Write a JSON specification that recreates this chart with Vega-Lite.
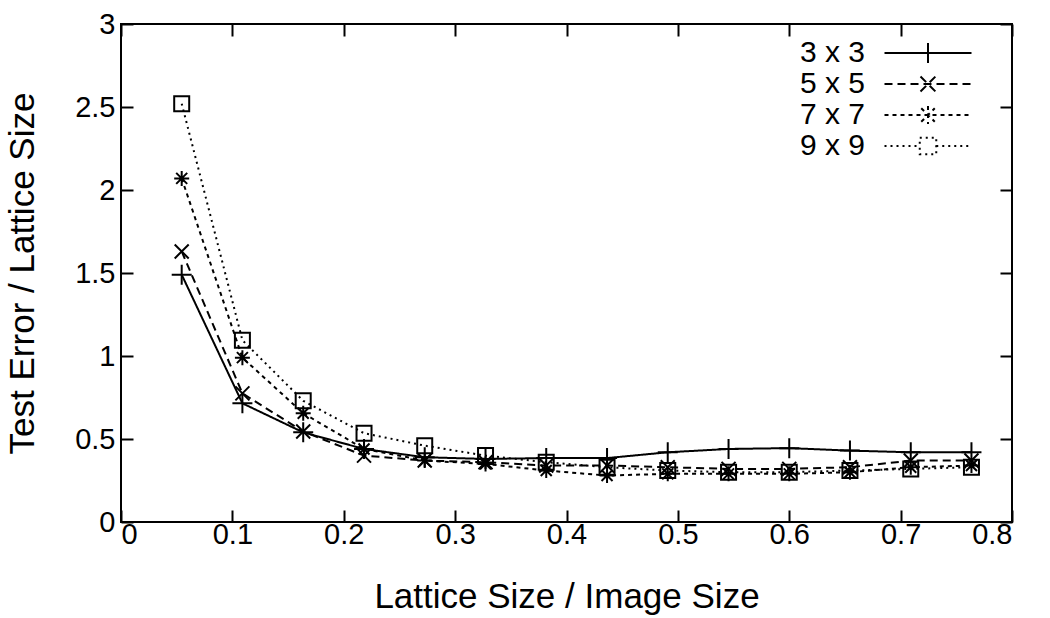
{
  "$schema": "https://vega.github.io/schema/vega-lite/v6.json",
  "width": 891,
  "height": 498,
  "autosize": "none",
  "padding": {"left": 121, "top": 24, "right": 38, "bottom": 96},
  "background": "white",
  "config": {
    "font": "Liberation Sans",
    "view": {"stroke": "black", "strokeWidth": 2},
    "axis": {"grid": false, "domain": false, "tickColor": "black", "tickWidth": 2, "tickSize": -12, "labelColor": "black", "titleColor": "black", "labelFont": "Liberation Sans", "titleFont": "Liberation Sans", "labelFontSize": 29, "titleFontSize": 35, "titleFontWeight": "normal"}
  },
  "data": {"values": [
    {"x": 0.0545, "y": 1.49, "s": "3 x 3"}, {"x": 0.109, "y": 0.715, "s": "3 x 3"}, {"x": 0.1636, "y": 0.54, "s": "3 x 3"}, {"x": 0.2182, "y": 0.44, "s": "3 x 3"}, {"x": 0.2727, "y": 0.39, "s": "3 x 3"}, {"x": 0.3273, "y": 0.38, "s": "3 x 3"}, {"x": 0.3818, "y": 0.385, "s": "3 x 3"}, {"x": 0.4364, "y": 0.385, "s": "3 x 3"}, {"x": 0.4909, "y": 0.42, "s": "3 x 3"}, {"x": 0.5455, "y": 0.44, "s": "3 x 3"}, {"x": 0.6, "y": 0.445, "s": "3 x 3"}, {"x": 0.6545, "y": 0.43, "s": "3 x 3"}, {"x": 0.7091, "y": 0.42, "s": "3 x 3"}, {"x": 0.7636, "y": 0.42, "s": "3 x 3"},
    {"x": 0.0545, "y": 1.63, "s": "5 x 5"}, {"x": 0.109, "y": 0.775, "s": "5 x 5"}, {"x": 0.1636, "y": 0.545, "s": "5 x 5"}, {"x": 0.2182, "y": 0.40, "s": "5 x 5"}, {"x": 0.2727, "y": 0.37, "s": "5 x 5"}, {"x": 0.3273, "y": 0.36, "s": "5 x 5"}, {"x": 0.3818, "y": 0.34, "s": "5 x 5"}, {"x": 0.4364, "y": 0.34, "s": "5 x 5"}, {"x": 0.4909, "y": 0.33, "s": "5 x 5"}, {"x": 0.5455, "y": 0.32, "s": "5 x 5"}, {"x": 0.6, "y": 0.32, "s": "5 x 5"}, {"x": 0.6545, "y": 0.33, "s": "5 x 5"}, {"x": 0.7091, "y": 0.37, "s": "5 x 5"}, {"x": 0.7636, "y": 0.37, "s": "5 x 5"},
    {"x": 0.0545, "y": 2.07, "s": "7 x 7"}, {"x": 0.109, "y": 0.99, "s": "7 x 7"}, {"x": 0.1636, "y": 0.655, "s": "7 x 7"}, {"x": 0.2182, "y": 0.44, "s": "7 x 7"}, {"x": 0.2727, "y": 0.37, "s": "7 x 7"}, {"x": 0.3273, "y": 0.35, "s": "7 x 7"}, {"x": 0.3818, "y": 0.31, "s": "7 x 7"}, {"x": 0.4364, "y": 0.28, "s": "7 x 7"}, {"x": 0.4909, "y": 0.29, "s": "7 x 7"}, {"x": 0.5455, "y": 0.29, "s": "7 x 7"}, {"x": 0.6, "y": 0.29, "s": "7 x 7"}, {"x": 0.6545, "y": 0.30, "s": "7 x 7"}, {"x": 0.7091, "y": 0.33, "s": "7 x 7"}, {"x": 0.7636, "y": 0.34, "s": "7 x 7"},
    {"x": 0.0545, "y": 2.52, "s": "9 x 9"}, {"x": 0.109, "y": 1.095, "s": "9 x 9"}, {"x": 0.1636, "y": 0.73, "s": "9 x 9"}, {"x": 0.2182, "y": 0.535, "s": "9 x 9"}, {"x": 0.2727, "y": 0.46, "s": "9 x 9"}, {"x": 0.3273, "y": 0.40, "s": "9 x 9"}, {"x": 0.3818, "y": 0.36, "s": "9 x 9"}, {"x": 0.4364, "y": 0.33, "s": "9 x 9"}, {"x": 0.4909, "y": 0.31, "s": "9 x 9"}, {"x": 0.5455, "y": 0.30, "s": "9 x 9"}, {"x": 0.6, "y": 0.30, "s": "9 x 9"}, {"x": 0.6545, "y": 0.31, "s": "9 x 9"}, {"x": 0.7091, "y": 0.32, "s": "9 x 9"}, {"x": 0.7636, "y": 0.33, "s": "9 x 9"}
  ]},
  "resolve": {"axis": {"x": "independent", "y": "independent"}},
  "layer": [
    {
      "mark": {"type": "line", "color": "black", "strokeWidth": 2},
      "encoding": {
        "x": {"field": "x", "type": "quantitative", "scale": {"domain": [0, 0.8], "nice": false, "zero": false}, "axis": {"values": [0, 0.1, 0.2, 0.3, 0.4, 0.5, 0.6, 0.7, 0.8], "format": "~g", "title": "Lattice Size / Image Size", "labelPadding": 10, "titlePadding": 30}},
        "y": {"field": "y", "type": "quantitative", "scale": {"domain": [0, 3], "nice": false}, "axis": {"values": [0, 0.5, 1, 1.5, 2, 2.5, 3], "format": "~g", "title": "Test Error / Lattice Size", "labelPadding": 18, "titlePadding": 34}},
        "strokeDash": {"field": "s", "type": "nominal", "scale": {"domain": ["3 x 3", "5 x 5", "7 x 7", "9 x 9"], "range": [[1, 0], [8, 5], [4, 4], [2, 4]]},
          "legend": {"title": null, "orient": "none", "legendX": 791, "legendY": 13, "padding": 0, "symbolSize": 900, "symbolStrokeColor": "black", "symbolStrokeWidth": 2, "labelFontSize": 30, "labelColor": "black", "labelFont": "Liberation Sans", "rowPadding": 0,
            "encode": {
              "symbols": {"update": {"shape": {"signal": "datum.value === '3 x 3' ? 'M-2.9,0L2.9,0M0,-0.67L0,0.67' : datum.value === '5 x 5' ? 'M-2.9,0L2.9,0M-0.5,-0.5L0.5,0.5M-0.5,0.5L0.5,-0.5' : datum.value === '7 x 7' ? 'M-2.9,0L2.9,0M0,-0.6L0,0.6M-0.45,-0.45L0.45,0.45M-0.45,0.45L0.45,-0.45' : 'M-2.9,0L-0.55,0M0.55,0L2.9,0M-0.55,-0.55L0.55,-0.55L0.55,0.55L-0.55,0.55Z'"}}},
              "labels": {"update": {"x": {"value": -47}, "align": {"value": "right"}}}
            }}
        }
      }
    },
    {
      "transform": [{"filter": "datum.s === '3 x 3'"}],
      "mark": {"type": "point", "filled": false, "stroke": "black", "strokeWidth": 2, "size": 400, "opacity": 1, "shape": "M-1,0L1,0M0,-1L0,1"},
      "encoding": {
        "x": {"field": "x", "type": "quantitative", "axis": {"orient": "top", "values": [0, 0.1, 0.2, 0.3, 0.4, 0.5, 0.6, 0.7, 0.8], "labels": false, "title": null}},
        "y": {"field": "y", "type": "quantitative", "axis": {"orient": "right", "values": [0, 0.5, 1, 1.5, 2, 2.5, 3], "labels": false, "title": null}}
      }
    },
    {
      "transform": [{"filter": "datum.s === '5 x 5'"}],
      "mark": {"type": "point", "filled": false, "stroke": "black", "strokeWidth": 2, "size": 400, "opacity": 1, "shape": "M-0.7,-0.7L0.7,0.7M-0.7,0.7L0.7,-0.7"},
      "encoding": {
        "x": {"field": "x", "type": "quantitative", "axis": null},
        "y": {"field": "y", "type": "quantitative", "axis": null}
      }
    },
    {
      "transform": [{"filter": "datum.s === '7 x 7'"}],
      "mark": {"type": "point", "filled": false, "stroke": "black", "strokeWidth": 2, "size": 400, "opacity": 1, "shape": "M-0.75,0L0.75,0M0,-0.75L0,0.75M-0.55,-0.55L0.55,0.55M-0.55,0.55L0.55,-0.55"},
      "encoding": {
        "x": {"field": "x", "type": "quantitative", "axis": null},
        "y": {"field": "y", "type": "quantitative", "axis": null}
      }
    },
    {
      "transform": [{"filter": "datum.s === '9 x 9'"}],
      "mark": {"type": "point", "filled": false, "stroke": "black", "strokeWidth": 2, "size": 400, "opacity": 1, "shape": "M-0.75,-0.75L0.75,-0.75L0.75,0.75L-0.75,0.75Z"},
      "encoding": {
        "x": {"field": "x", "type": "quantitative", "axis": null},
        "y": {"field": "y", "type": "quantitative", "axis": null}
      }
    }
  ]
}
